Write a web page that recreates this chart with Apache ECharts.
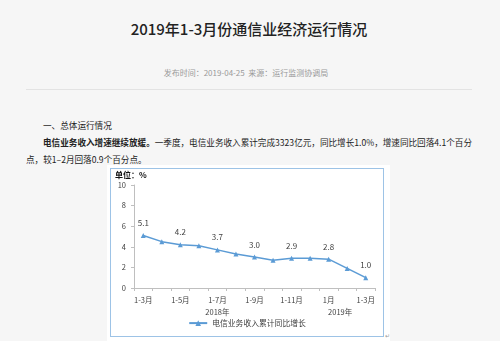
<!DOCTYPE html>
<html>
<head>
<meta charset="utf-8">
<script src="https://cdn.jsdelivr.net/npm/echarts@6/dist/echarts.min.js"></script>
<style>
  html, body { margin: 0; padding: 0; width: 500px; height: 341px; overflow: hidden; background: #f6f6f6; font-family: "Noto Sans CJK SC", "Noto Sans", sans-serif; }
  .abs { position: absolute; white-space: nowrap; }
  #title { left: 0; top: 19px; width: 498px; text-align: center; font-size: 15px; line-height: 20px; color: #222; font-weight: 500; }
  #meta { left: 0; top: 68px; width: 492px; text-align: center; font-size: 8px; line-height: 10px; color: #9a9a9a; }
  #sep { left: 26px; top: 89px; width: 446px; height: 1px; background: #e3e3e3; }
  #h1 { left: 43px; top: 120px; font-size: 8.6px; line-height: 11px; color: #222; }
  #para { left: 26px; top: 134px; font-size: 8.6px; line-height: 16.7px; color: #222; }
  #para b { font-weight: bold; }
  #box { left: 107px; top: 165px; width: 283px; height: 176px; background: #fff; }
  #chart { left: 110px; top: 168px; width: 272px; height: 167px; border: 1px solid #9dc3e6; background: #fff; }
  #ret { left: 385px; top: 331px; font-size: 6px; color: #999; }
</style>
</head>
<body>
<div class="abs" id="title">2019年1-3月份通信业经济运行情况</div>
<div class="abs" id="meta">发布时间：2019-04-25&nbsp;&nbsp;来源：运行监测协调局</div>
<div class="abs" id="sep"></div>
<div class="abs" id="h1">一、总体运行情况</div>
<div class="abs" id="para"><span style="padding-left:17px"></span><b>电信业务收入增速继续放缓。</b>一季度，电信业务收入累计完成3323亿元，同比增长1.0%，增速同比回落4.1个百分<br>点，较1–2月回落0.9个百分点。</div>
<div class="abs" id="box"></div>
<div class="abs" id="chart"></div>
<div class="abs" id="ret">↵</div>
<script>
const categories = ['1-3月','1-4月','1-5月','1-6月','1-7月','1-8月','1-9月','1-10月','1-11月','1-12月','1月','1-2月','1-3月'];
const yearLabels = ['','','','','2018年','','','','','','','2019年',''];
const growth = [5.1, 4.5, 4.2, 4.1, 3.7, 3.3, 3.0, 2.7, 2.9, 2.9, 2.8, 1.9, 1.0];
const seriesName = '电信业务收入累计同比增长';
const yTicks = [0, 2, 4, 6, 8, 10];

const chart = echarts.init(document.getElementById('chart'), null, { renderer: 'canvas' });
const font = '"Noto Sans CJK SC", sans-serif';
chart.setOption({
  animation: false,
  textStyle: { fontFamily: font },
  title: { text: '单位：%', left: 2, top: 0, padding: [2, 2, 2, 2], textStyle: { fontSize: 8, fontWeight: 'bold', color: '#111', fontFamily: font } },
  grid: { left: 23, top: 16, width: 241, height: 103 },
  legend: {
    data: [seriesName], bottom: 4, left: 'center', itemWidth: 18, itemHeight: 7, itemGap: 4,
    textStyle: { fontSize: 7.8, color: '#404040', fontFamily: font }
  },
  xAxis: [{
    type: 'category', data: categories, boundaryGap: true,
    axisLine: { lineStyle: { color: '#bfbfbf' } },
    axisTick: { show: true, interval: 0, length: 3, lineStyle: { color: '#bfbfbf' } },
    axisLabel: { interval: 1, margin: 8, fontSize: 7.5, color: '#404040', fontFamily: font }
  }, {
    type: 'category', data: yearLabels, position: 'bottom', boundaryGap: true,
    axisLine: { show: false }, axisTick: { show: false },
    axisLabel: { interval: 0, margin: 20, fontSize: 7.5, color: '#404040', fontFamily: font,
      formatter: function (v) { return v === yearLabels[11] ? '{s|' + v + '}' : v; },
      rich: { s: { fontSize: 7.5, color: '#404040', fontFamily: font, padding: [0, 14, 0, 0] } }
    }
  }],
  yAxis: {
    type: 'value', min: yTicks[0], max: yTicks[yTicks.length - 1], interval: 2,
    axisLine: { show: true, lineStyle: { color: '#bfbfbf' } },
    axisTick: { show: true, length: 3, lineStyle: { color: '#bfbfbf' } },
    splitLine: { show: false },
    axisLabel: { margin: 8, fontSize: 7.5, color: '#404040', fontFamily: font }
  },
  series: [{
    name: seriesName, type: 'line', data: growth, xAxisIndex: 0,
    symbol: 'triangle', symbolSize: 5,
    lineStyle: { color: '#5b9bd5', width: 1.5 },
    itemStyle: { color: '#5b9bd5' },
    label: {
      show: true, position: 'top', distance: 6, fontSize: 8, color: '#404040', fontFamily: font,
      formatter: function (p) { return p.dataIndex % 2 === 0 ? p.value.toFixed(1) : ''; }
    }
  }]
});
</script>
</body>
</html>
